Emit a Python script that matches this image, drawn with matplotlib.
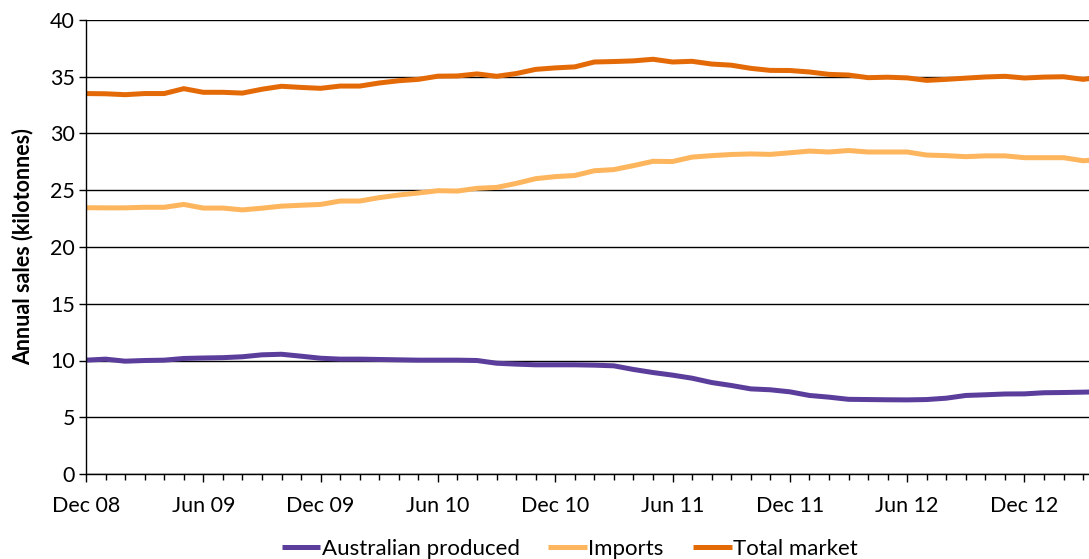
import matplotlib.pyplot as plt
from matplotlib.ticker import MultipleLocator

plt.rcParams['font.family'] = ['Lato', 'DejaVu Sans']

# monthly, Dec 08 to Apr 13
months = ['Dec 08', 'Jan 09', 'Feb 09', 'Mar 09', 'Apr 09', 'May 09',
          'Jun 09', 'Jul 09', 'Aug 09', 'Sep 09', 'Oct 09', 'Nov 09',
          'Dec 09', 'Jan 10', 'Feb 10', 'Mar 10', 'Apr 10', 'May 10',
          'Jun 10', 'Jul 10', 'Aug 10', 'Sep 10', 'Oct 10', 'Nov 10',
          'Dec 10', 'Jan 11', 'Feb 11', 'Mar 11', 'Apr 11', 'May 11',
          'Jun 11', 'Jul 11', 'Aug 11', 'Sep 11', 'Oct 11', 'Nov 11',
          'Dec 11', 'Jan 12', 'Feb 12', 'Mar 12', 'Apr 12', 'May 12',
          'Jun 12', 'Jul 12', 'Aug 12', 'Sep 12', 'Oct 12', 'Nov 12',
          'Dec 12', 'Jan 13', 'Feb 13', 'Mar 13', 'Apr 13']

australian = [10.03, 10.12, 9.94, 10.0, 10.03, 10.18, 10.22, 10.25, 10.33, 10.5,
              10.55, 10.38, 10.2, 10.12, 10.12, 10.09, 10.06, 10.03, 10.03, 10.03,
              10.0, 9.76, 9.68, 9.62, 9.62, 9.62, 9.59, 9.53, 9.21, 8.94,
              8.71, 8.44, 8.06, 7.8, 7.5, 7.42, 7.24, 6.92, 6.77, 6.58,
              6.56, 6.54, 6.53, 6.56, 6.68, 6.92, 6.98, 7.05, 7.06, 7.16,
              7.18, 7.21, 7.25]

imports = [23.46, 23.45, 23.45, 23.5, 23.5, 23.75, 23.43, 23.43, 23.27, 23.42,
           23.6, 23.68, 23.75, 24.05, 24.05, 24.35, 24.58, 24.76, 24.96, 24.93,
           25.17, 25.25, 25.6, 26.02, 26.2, 26.3, 26.72, 26.82, 27.17, 27.55,
           27.53, 27.92, 28.05, 28.15, 28.2, 28.16, 28.3, 28.45, 28.37, 28.5,
           28.37, 28.37, 28.37, 28.1, 28.05, 27.96, 28.03, 28.03, 27.87, 27.87,
           27.87, 27.6, 27.7]

total = [33.52, 33.5, 33.42, 33.52, 33.52, 33.95, 33.63, 33.63, 33.56, 33.9,
         34.16, 34.06, 33.98, 34.18, 34.18, 34.45, 34.65, 34.77, 35.05, 35.07,
         35.25, 35.04, 35.28, 35.65, 35.78, 35.87, 36.3, 36.34, 36.4, 36.54,
         36.3, 36.36, 36.12, 36.02, 35.74, 35.56, 35.55, 35.42, 35.21, 35.15,
         34.92, 34.96, 34.9, 34.68, 34.77, 34.88, 34.98, 35.04, 34.89, 34.97,
         35.0, 34.77, 35.0]

x = list(range(len(months)))

fig = plt.figure(figsize=(10.89, 5.59), dpi=100)
ax = fig.add_axes([86 / 1089, 1 - 474 / 559, 1 - 86 / 1089, (474 - 20) / 559])

style = dict(lw=3.6, solid_joinstyle='round', solid_capstyle='butt')
ax.plot(x, australian, color='#5B3E9B', label='Australian produced', **style)
ax.plot(x, imports, color='#FDB55E', label='Imports', **style)
ax.plot(x, total, color='#E46A08', label='Total market', **style)

ax.set_ylim(0, 40)
ax.set_xlim(0, 51.3)
ax.yaxis.set_major_locator(MultipleLocator(5))
ax.set_xticks(x[::6])
ax.set_xticklabels(months[::6])
ax.xaxis.set_minor_locator(MultipleLocator(1))

ax.grid(axis='y', color='black', lw=1)
ax.set_axisbelow(True)
for side in ['top', 'right']:
    ax.spines[side].set_visible(False)
for side in ['left', 'bottom']:
    ax.spines[side].set_color('black')
    ax.spines[side].set_linewidth(1)

ax.tick_params(axis='y', length=5, width=1, labelsize=15.5, pad=3)
ax.tick_params(axis='x', which='major', length=6, width=1, labelsize=15.5, pad=10)
ax.tick_params(axis='x', which='minor', length=4, width=1)

ax.set_ylabel('Annual sales (kilotonnes)', fontsize=15.5, fontweight='bold',
              labelpad=12)

fig.legend(loc='center', bbox_to_anchor=(0.523, 0.018), ncol=3, frameon=False,
           fontsize=16, handlelength=1.75, handletextpad=0.05,
           columnspacing=1.3)

fig.savefig('out.png', dpi=100)
